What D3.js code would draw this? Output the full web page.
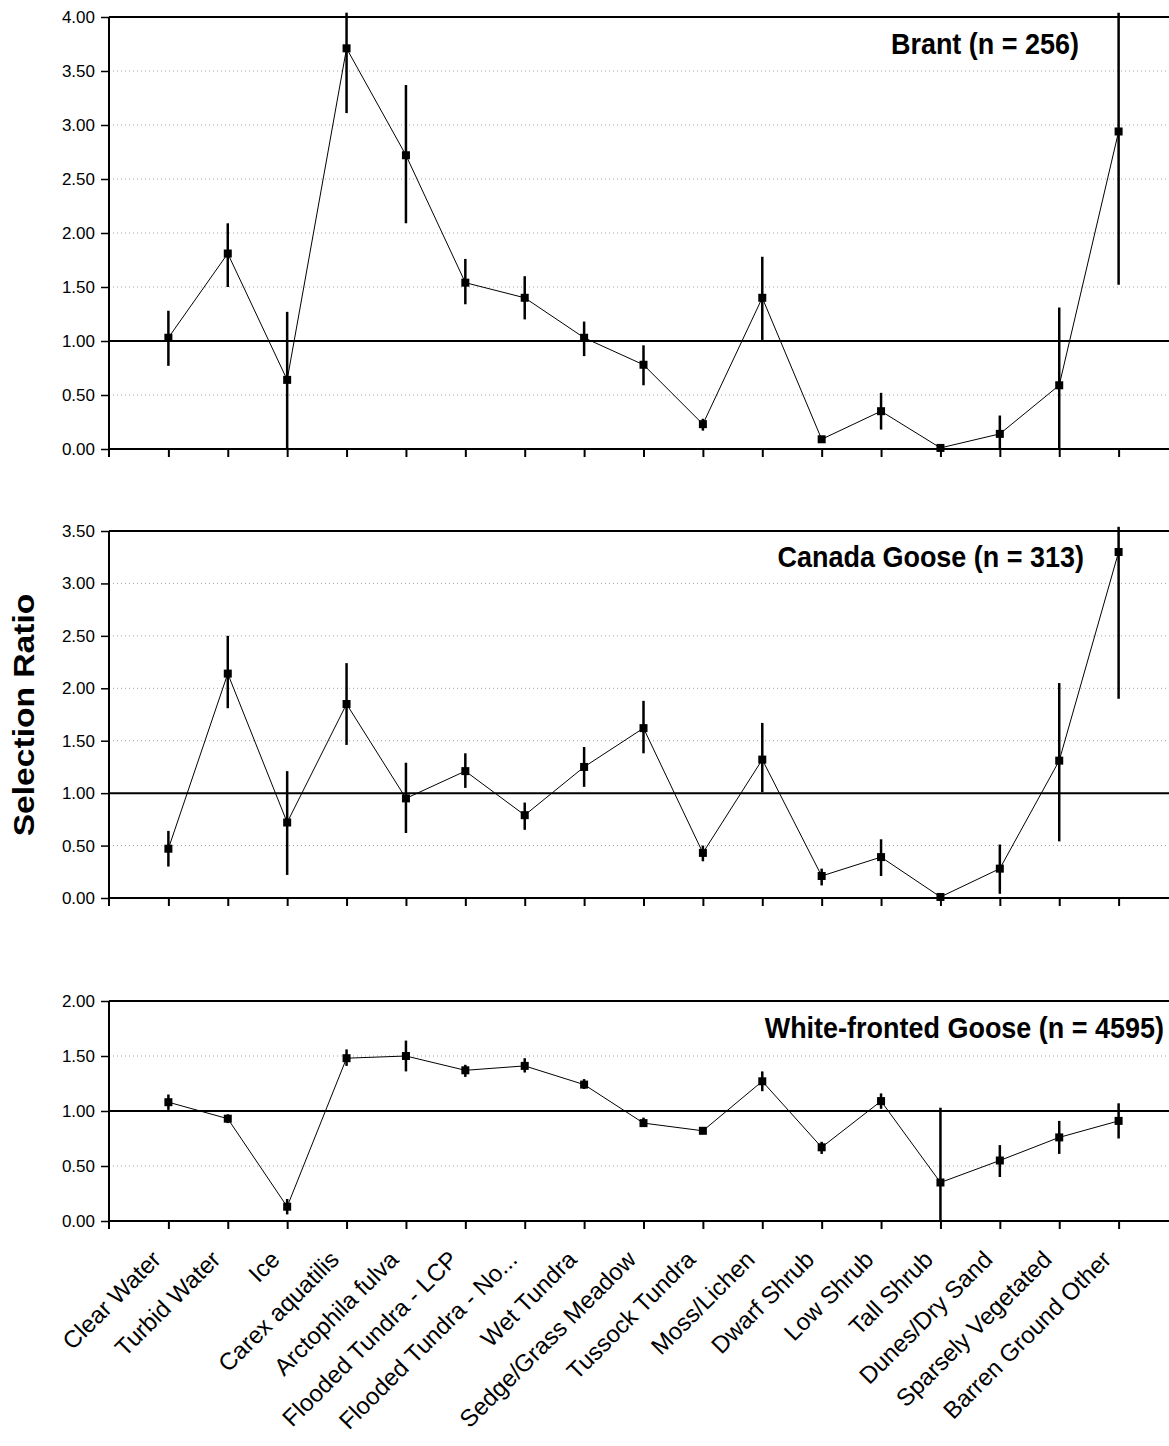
<!DOCTYPE html>
<html>
<head>
<meta charset="utf-8">
<script src="https://cdn.jsdelivr.net/npm/d3@7"></script>
<style>
  body { margin: 0; background: #fff; }
  svg { display: block; font-family: "Liberation Sans", Arial, sans-serif; }
  .grid line { stroke: #a0a0a0; stroke-width: 1; stroke-dasharray: 1,3; }
  .yaxis text { font-size: 17px; fill: #000; }
  .xlab { font-size: 24px; }
  .title { font-size: 29px; font-weight: bold; }
</style>
</head>
<body>
<div class="chart"></div>
<script>
const categories = ['Clear Water', 'Turbid Water', 'Ice', 'Carex aquatilis', 'Arctophila fulva',
	'Flooded Tundra - LCP', 'Flooded Tundra - No...', 'Wet Tundra', 'Sedge/Grass Meadow',
	'Tussock Tundra', 'Moss/Lichen', 'Dwarf Shrub', 'Low Shrub', 'Tall Shrub',
	'Dunes/Dry Sand', 'Sparsely Vegetated', 'Barren Ground Other'];

// Brant
const brantRatio = [1.03, 1.81, 0.64, 3.71, 2.72, 1.54, 1.40, 1.03, 0.78, 0.23, 1.40, 0.09, 0.35, 0.01, 0.14, 0.59, 2.94];
const brantLow   = [0.77, 1.50, 0.00, 3.11, 2.09, 1.34, 1.20, 0.86, 0.59, 0.17, 1.01, 0.07, 0.18, 0.00, 0.00, 0.00, 1.52];
const brantHigh  = [1.28, 2.09, 1.27, 4.04, 3.37, 1.76, 1.60, 1.18, 0.96, 0.28, 1.78, 0.12, 0.52, 0.02, 0.31, 1.31, 4.04];

// Canada Goose
const canadaRatio = [0.47, 2.14, 0.72, 1.85, 0.95, 1.21, 0.79, 1.25, 1.62, 0.43, 1.32, 0.21, 0.39, 0.01, 0.28, 1.31, 3.30];
const canadaLow   = [0.30, 1.81, 0.22, 1.46, 0.62, 1.05, 0.65, 1.06, 1.38, 0.35, 1.01, 0.12, 0.21, 0.00, 0.04, 0.54, 1.90];
const canadaHigh  = [0.64, 2.50, 1.21, 2.24, 1.29, 1.38, 0.91, 1.44, 1.88, 0.50, 1.67, 0.28, 0.56, 0.02, 0.51, 2.05, 3.54];

// White-fronted Goose
const whiteRatio = [1.08, 0.93, 0.13, 1.48, 1.50, 1.37, 1.41, 1.24, 0.89, 0.82, 1.27, 0.67, 1.09, 0.35, 0.55, 0.76, 0.91];
const whiteLow   = [1.01, 0.89, 0.06, 1.41, 1.36, 1.31, 1.35, 1.20, 0.86, 0.80, 1.18, 0.61, 1.02, 0.00, 0.40, 0.61, 0.75];
const whiteHigh  = [1.15, 0.97, 0.20, 1.56, 1.64, 1.42, 1.48, 1.29, 0.94, 0.85, 1.36, 0.72, 1.16, 1.03, 0.69, 0.91, 1.07];

const brantTicks = [0, 0.5, 1, 1.5, 2, 2.5, 3, 3.5, 4];
const canadaTicks = [0, 0.5, 1, 1.5, 2, 2.5, 3, 3.5];
const whiteTicks = [0, 0.5, 1, 1.5, 2];

const width = 1169;
const height = 1446;
const left = 109;
const right = 1178;

const svg = d3.select('.chart')
	.append('svg')
	.attr('width', width)
	.attr('height', height);

const x = d3.scalePoint()
	.domain(categories)
	.range([left, right])
	.padding(1);

const panels = [
	{ title: 'Brant (n = 256)', ratio: brantRatio, low: brantLow, high: brantHigh, ticks: brantTicks, top: 17, bottom: 449, titleX: 1079, titleY: 54 },
	{ title: 'Canada Goose (n = 313)', ratio: canadaRatio, low: canadaLow, high: canadaHigh, ticks: canadaTicks, top: 531, bottom: 898, titleX: 1084, titleY: 567 },
	{ title: 'White-fronted Goose (n = 4595)', ratio: whiteRatio, low: whiteLow, high: whiteHigh, ticks: whiteTicks, top: 1001, bottom: 1221, titleX: 1164, titleY: 1038 }
];

panels.forEach(function (p, k) {
	const g = svg.append('g');
	const y = d3.scaleLinear()
		.domain([0, d3.max(p.ticks)])
		.range([p.bottom, p.top]);

	// dotted gridlines
	g.append('g')
		.attr('class', 'grid')
		.selectAll('line')
		.data(p.ticks.filter(t => t != 0 && t != 1 && t != d3.max(p.ticks)))
		.enter()
		.append('line')
		.attr('x1', left)
		.attr('x2', right)
		.attr('y1', d => y(d))
		.attr('y2', d => y(d));

	// y axis
	const yAxis = g.append('g')
		.attr('class', 'yaxis')
		.attr('transform', 'translate(' + left + ',0)')
		.call(d3.axisLeft(y).tickValues(p.ticks).tickFormat(d3.format('.2f')).tickSize(8).tickPadding(6));
	yAxis.select('.domain').remove();
	yAxis.selectAll('line').attr('stroke', '#000').attr('stroke-width', 1.5);

	// frame lines: top, bottom, reference 1.00, left
	[d3.max(p.ticks), 0, 1].forEach(function (v) {
		g.append('line')
			.attr('x1', left)
			.attr('x2', right)
			.attr('y1', y(v))
			.attr('y2', y(v))
			.attr('stroke', '#000')
			.attr('stroke-width', 2);
	});
	g.append('line')
		.attr('x1', left)
		.attr('x2', left)
		.attr('y1', p.top)
		.attr('y2', p.bottom + 8)
		.attr('stroke', '#000')
		.attr('stroke-width', 2);

	// category ticks below the plot
	const xAxis = g.append('g')
		.attr('transform', 'translate(0,' + p.bottom + ')')
		.call(d3.axisBottom(x).tickSize(8).tickFormat(''));
	xAxis.select('.domain').remove();
	xAxis.selectAll('line').attr('stroke', '#000').attr('stroke-width', 2);

	// connecting line
	const line = d3.line()
		.x((d, i) => x(categories[i]))
		.y(d => y(d));
	g.append('path')
		.datum(p.ratio)
		.attr('d', line)
		.attr('fill', 'none')
		.attr('stroke', '#000')
		.attr('stroke-width', 1);

	// error bars
	g.selectAll('.err')
		.data(p.ratio)
		.enter()
		.append('line')
		.attr('class', 'err')
		.attr('x1', (d, i) => x(categories[i]))
		.attr('x2', (d, i) => x(categories[i]))
		.attr('y1', (d, i) => y(p.low[i]))
		.attr('y2', (d, i) => y(p.high[i]))
		.attr('stroke', '#000')
		.attr('stroke-width', 2.5);

	// markers
	g.selectAll('.pt')
		.data(p.ratio)
		.enter()
		.append('rect')
		.attr('class', 'pt')
		.attr('x', (d, i) => x(categories[i]) - 4)
		.attr('y', d => y(d) - 4)
		.attr('width', 8)
		.attr('height', 8)
		.attr('fill', '#000');

	g.append('text')
		.attr('class', 'title')
		.attr('transform', 'translate(' + p.titleX + ',' + p.titleY + ') scale(0.93,1)')
		.attr('text-anchor', 'end')
		.text(p.title);

	// category labels under the last panel
	if (k == panels.length - 1) {
		g.selectAll('.xlab')
			.data(categories)
			.enter()
			.append('text')
			.attr('class', 'xlab')
			.attr('text-anchor', 'end')
			.attr('transform', d => 'translate(' + (x(d) - 6) + ',' + (p.bottom + 40) + ') rotate(-45)')
			.text(d => d);
	}
});

svg.append('text')
	.attr('transform', 'translate(34,715) rotate(-90) scale(1.12,1)')
	.attr('text-anchor', 'middle')
	.attr('font-size', '30px')
	.attr('font-weight', 'bold')
	.text('Selection Ratio');
</script>
</body>
</html>
